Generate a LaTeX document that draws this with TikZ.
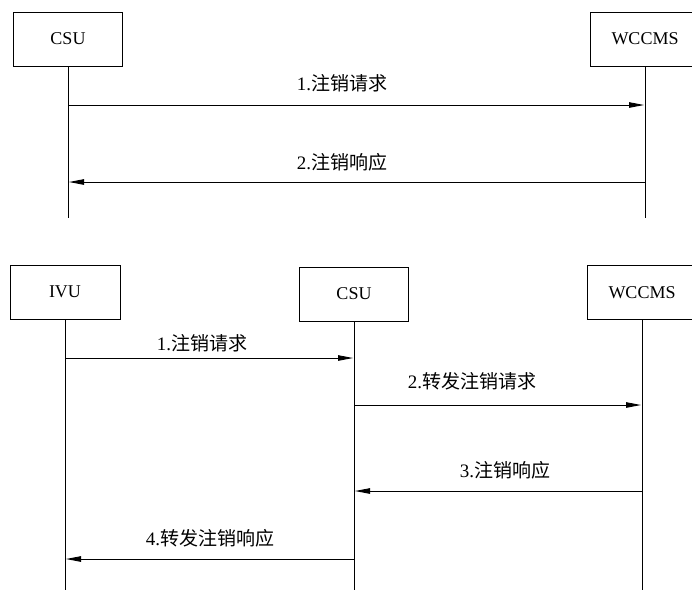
\documentclass[tikz,border=0pt]{standalone}
\usepackage{fontspec}
\setmainfont{Liberation Serif}
\newfontfamily\cjk{Noto Sans CJK SC}
\usetikzlibrary{arrows.meta}
\begin{document}
\begin{tikzpicture}[x=1pt,y=-1pt,
  actor/.style={draw, line width=0.9pt, minimum width=109pt, minimum height=54pt, inner sep=0pt, font=\fontsize{18}{18}\selectfont},
  life/.style={line width=0.9pt},
  msg/.style={line width=0.9pt, -{Triangle[length=15pt,width=5.5pt]}},
  lbl/.style={font=\fontsize{19}{19}\selectfont, inner sep=0pt}]
\useasboundingbox (0,0) rectangle (692,590);
\clip (0,0) rectangle (692,590);
% ---- top diagram ----
\node[actor] (csuA) at (68,39) {CSU};
\node[actor, minimum width=110pt] (wccA) at (645,39) {WCCMS};
\coordinate (csuAend) at (68,218);
\coordinate (wccAend) at (645,218);
\draw[life] (csuA.south) -- (csuAend);
\draw[life] (wccA.south) -- (wccAend);
\coordinate (t1a) at (68,105);
\coordinate (t1b) at (644,105);
\coordinate (t2a) at (645,182);
\coordinate (t2b) at (69,182);
\draw[msg] (t1a) -- (t1b);
\draw[msg] (t2a) -- (t2b);
\node[lbl] (lt1) at (342,83) {1.{\cjk 注销请求}};
\node[lbl] (lt2) at (342,162) {2.{\cjk 注销响应}};
% ---- bottom diagram ----
\node[actor, minimum width=110pt] (ivuB) at (65,292) {IVU};
\node[actor] (csuB) at (354,294) {CSU};
\node[actor, minimum width=110pt] (wccB) at (642,292.5) {WCCMS};
\coordinate (ivuBend) at (65,590);
\coordinate (csuBend) at (354,590);
\coordinate (wccBend) at (642,590);
\draw[life] (ivuB.south) -- (ivuBend);
\draw[life] (csuB.south) -- (csuBend);
\draw[life] (wccB.south) -- (wccBend);
\coordinate (b1a) at (65,358);
\coordinate (b1b) at (353,358);
\coordinate (b2a) at (354,405);
\coordinate (b2b) at (641,405);
\coordinate (b3a) at (642,491);
\coordinate (b3b) at (355,491);
\coordinate (b4a) at (354,559);
\coordinate (b4b) at (66,559);
\draw[msg] (b1a) -- (b1b);
\draw[msg] (b2a) -- (b2b);
\draw[msg] (b3a) -- (b3b);
\draw[msg] (b4a) -- (b4b);
\node[lbl] (lb1) at (202,343) {1.{\cjk 注销请求}};
\node[lbl] (lb2) at (472,381) {2.{\cjk 转发注销请求}};
\node[lbl] (lb3) at (505,470) {3.{\cjk 注销响应}};
\node[lbl] (lb4) at (210,538) {4.{\cjk 转发注销响应}};
\end{tikzpicture}
\end{document}
